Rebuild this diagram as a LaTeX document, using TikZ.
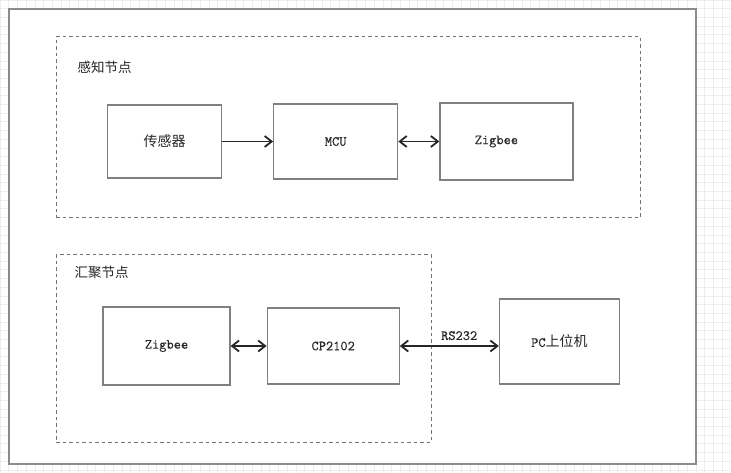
\documentclass[tikz,border=0pt]{standalone}
\usepackage{fontspec}
\newfontfamily\cjk{Noto Sans CJK SC}
\newfontfamily\monotext[FakeBold=0.3]{Latin Modern Mono}
\usetikzlibrary{arrows.meta,positioning}

\begin{document}
\begin{tikzpicture}[
    x=1pt, y=-1pt,
    >={Straight Barb[length=7pt,width=11pt,line width=1.8pt]},
    blk/.style={draw=black!50, line width=1.2pt, align=center, text=black!85, font=\fontsize{14}{17}\selectfont},
    grp/.style={draw=black!55, line width=1pt, dash pattern=on 3.5pt off 3pt},
    grptitle/.style={anchor=west, text=black!85, font=\cjk\fontsize{13.5}{16}\selectfont},
    link/.style={line width=1.2pt, draw=black!85}
  ]
    \useasboundingbox (0,0) rectangle (731,473);
    % background grid and frame
    \draw[black!7, line width=0.6pt, step=8.7pt] (0,0) grid (731,473);
    \draw[draw=black!45, line width=2pt, fill=white] (9,9) rectangle (696,464);

    % sensing node group
    \node[grp, minimum width=584pt, minimum height=181pt] (sensing) at (348,127.5) {};
    \node[grptitle] (sensingtitle) at (74,67) {感知节点};
    \node[blk, minimum width=114pt, minimum height=73pt] (sensor) at (164.5,141.5) {\cjk 传感器};
    \node[blk, minimum width=124pt, minimum height=75pt, right=51pt of sensor] (mcu) {\monotext MCU};
    \node[blk, minimum width=133pt, minimum height=77pt, right=41pt of mcu] (zbs) {\monotext Zigbee\hspace*{20pt}};

    % sink node group
    \node[grp, minimum width=375pt, minimum height=187pt] (sink) at (243.5,348.5) {};
    \node[grptitle] (sinktitle) at (71,272) {汇聚节点};
    \node[blk, minimum width=127pt, minimum height=78pt] (zbr) at (166.5,346) {\monotext Zigbee};
    \node[blk, minimum width=132pt, minimum height=76pt, right=36pt of zbr] (cp) {\monotext CP2102};
    \node[blk, minimum width=120pt, minimum height=85pt, right=99pt of cp, yshift=4.5pt] (pc) {\monotext PC\cjk 上位机};

    \draw[link, ->] (sensor.east) -- (sensor.east -| mcu.west);
    \draw[link, <->] (mcu.east) -- (mcu.east -| zbs.west);
    \draw[link, <->] (zbr.east) -- (zbr.east -| cp.west);
    \draw[link, <->] (cp.east) -- node[pos=0.6, above=2pt, text=black!85, font=\monotext\fontsize{14}{17}\selectfont] (rs) {RS232} (cp.east -| pc.west);
  \end{tikzpicture}
\end{document}
